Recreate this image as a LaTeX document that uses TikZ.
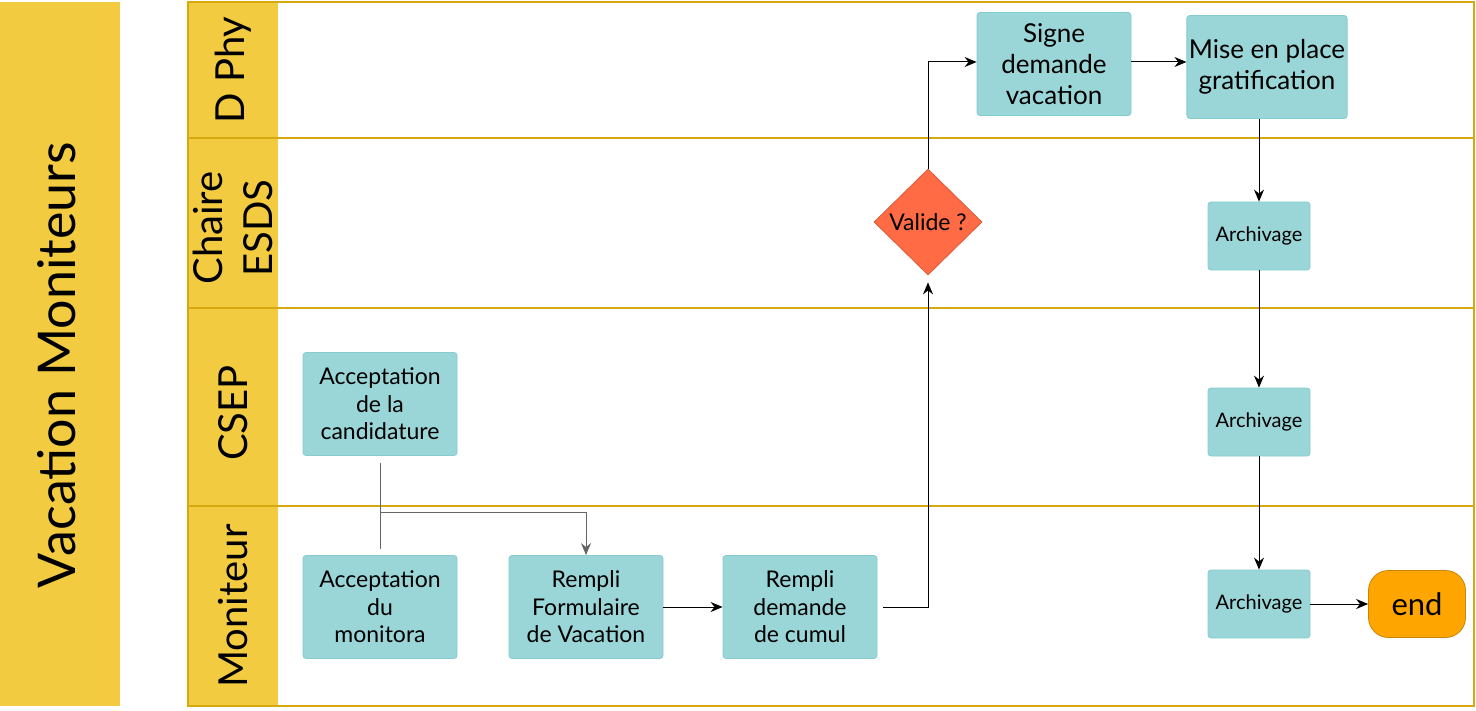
\documentclass[tikz,border=0pt]{standalone}
\usepackage{fontspec}
\setmainfont{Lato}
\usetikzlibrary{shapes.geometric,arrows.meta}

\definecolor{lanegold}{HTML}{D6A90F}
\definecolor{laneyellow}{HTML}{F2CB40}
\definecolor{taskfill}{HTML}{9AD5D7}
\definecolor{taskline}{HTML}{86CBCF}
\definecolor{testfill}{HTML}{FF6B45}
\definecolor{endfill}{HTML}{FFA500}

\tikzset{
  task/.style={draw=taskline, fill=taskfill, rounded corners=1.5pt,
    minimum width=77pt, minimum height=51.5pt, inner sep=1pt, align=center,
    font=\fontsize{13}{15.5}\selectfont},
  lowtask/.style={task, font=\fontsize{11.5}{13.8}\selectfont},
  smalltask/.style={task, minimum width=51pt, minimum height=34pt,
    font=\fontsize{10}{12}\selectfont},
  test/.style={diamond, draw=testfill!85!black, fill=testfill, inner sep=0pt,
    minimum width=54pt, minimum height=53pt, font=\fontsize{11.5}{13}\selectfont},
  finish/.style={draw=endfill!80!black, fill=endfill, rounded corners=10pt,
    minimum width=48.5pt, minimum height=33.5pt, font=\fontsize{15.5}{17}\selectfont},
  flow/.style={-{Stealth[length=6pt,width=5pt]}, line width=0.5pt},
  lanelabel/.style={rotate=90, align=center, font=\fontsize{20}{25}\selectfont},
  laneline/.style={draw=lanegold, line width=1pt}
}

\begin{document}
\begin{tikzpicture}[x=0.5pt, y=-0.5pt]
    \useasboundingbox (0,0) rectangle (1476,711);
    % title bar
    \fill[laneyellow] (0,2) rectangle (120,706);
    \node[rotate=90, font=\fontsize{26}{28}\selectfont] (title) at (57,365) {Vacation Moniteurs};
    % pool and lanes
    \fill[laneyellow] (188,2) rectangle (278,706);
    \draw[laneline] (188,2) rectangle (1474,706);
    \foreach \y in {138,308,506} {
      \draw[laneline] (188,\y) -- (1474,\y);
    }
    \node[lanelabel] (dphy) at (233,70) {D Phy};
    \node[lanelabel] (esds) at (233,228) {Chaire\\ESDS};
    \node[lanelabel] (csep) at (233,413) {CSEP};
    \node[lanelabel] (mon) at (233,606) {Moniteur};
    %
    \node[lowtask] (cand) at (380,404) {Acceptation\\de la\\candidature};
    \node[lowtask] (monit) at (380,607) {Acceptation\\du\\monitora};
    \node[lowtask] (form) at (586,607) {Rempli\\Formulaire\\de Vacation};
    \node[lowtask] (cumul) at (800,607) {Rempli\\demande\\de cumul};
    \node[test] (valide) at (928,222) {Valide ?};
    \node[task] (signe) at (1054,64) {Signe\\demande\\vacation};
    \node[task] (grat) at (1267,67) {Mise en place\\gratification};
    \node[smalltask] (arch1) at (1259,236) {Archivage};
    \node[smalltask] (arch2) at (1259,422) {Archivage};
    \node[smalltask] (arch3) at (1259,604) {Archivage};
    \node[finish] (fin) at (1417,604) {end};
    \coordinate (join) at (380,512);
    %
    \draw[flow, draw=black!60, shorten <=3.5pt] (cand.south) -- (join) -| (form.north);
    \draw[draw=black!60, line width=0.5pt, shorten <=3pt] (monit.north) -- (join);
    \draw[flow] (form) -- (cumul);
    \draw[flow, shorten <=3pt, shorten >=3.5pt] (cumul.east) -| (valide.south);
    \draw[flow] (valide.north) |- ([yshift=1pt]signe.west);
    \draw[flow] ([yshift=1pt]signe.east) -- ([yshift=1pt]signe.east -| grat.west);
    \draw[flow] (arch1.north |- grat.south) -- (arch1.north);
    \draw[flow] (arch1) -- (arch2);
    \draw[flow] (arch2) -- (arch3);
    \draw[flow] (arch3) -- (fin);
  \end{tikzpicture}
\end{document}
